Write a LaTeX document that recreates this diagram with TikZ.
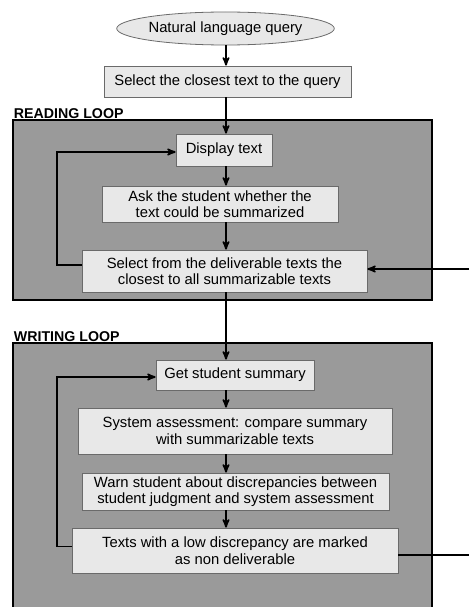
\documentclass[tikz,border=0pt]{standalone}
\usepackage{fontspec}
\setmainfont{Liberation Sans}
\usetikzlibrary{arrows,shapes}
\definecolor{boxfill}{HTML}{E8E8E8}
\definecolor{boxline}{HTML}{6A6A6A}
\definecolor{loopfill}{HTML}{9A9A9A}

\begin{document}
\begin{tikzpicture}[->,>=stealth',x=1pt,y=-1pt,line width=1.8pt,
                    font=\fontsize{14.8}{16.5}\selectfont]
  \tikzstyle{step box}=[rectangle,draw=boxline,fill=boxfill,line width=0.8pt,align=center,inner sep=0pt]
  \tikzstyle{query}=[ellipse,draw=boxline,fill=boxfill,line width=0.8pt,inner sep=0pt,minimum width=187pt,minimum height=33pt]
  \tikzstyle{loop title}=[anchor=base west,inner sep=0pt,font=\fontsize{14.2}{16}\selectfont\bfseries]

  \useasboundingbox (0,0) rectangle (469,607);

  % the two loops
  \fill[loopfill] (13,120) rectangle (432,300);
  \draw[-,line width=2.2pt] (13,120) rectangle (432,300);
  \fill[loopfill] (13,343) rectangle (432,607);
  \draw[-,line width=2.2pt] (13,607) |- (432,343) -- (432,607);
  \node[loop title] (readtitle)  at (13,118) {READING LOOP};
  \node[loop title] (writetitle) at (13,341) {WRITING LOOP};

  \node[query] (nlq) at (225.5,28.5) {Natural language query};
  \node[step box,minimum width=247pt,minimum height=31pt] (closest) at (227.5,81.5) {Select the closest text to the query};
  \node[step box,minimum width=96pt,minimum height=32pt]  (disp)    at (224,150) {Display text};
  \node[step box,minimum width=236pt,minimum height=36pt] (ask)     at (220,204) {Ask the student whether the\\text could be summarized};
  \node[step box,minimum width=285pt,minimum height=42pt] (selfrom) at (224.5,271) {Select from the deliverable texts the\\closest to all summarizable texts};
  \node[step box,minimum width=158pt,minimum height=30pt] (get)     at (235,375) {Get student summary};
  \node[step box,minimum width=314pt,minimum height=46pt] (sys)     at (235,431) {System assessment: compare summary\\with summarizable texts};
  \node[step box,minimum width=307pt,minimum height=37pt] (warn)    at (235.5,491.5) {Warn student about discrepancies between\\student judgment and system assessment};
  \node[step box,minimum width=326pt,minimum height=45pt] (texts)   at (235,550.5) {Texts with a low discrepancy are marked\\as non deliverable};

  \coordinate (spine)   at (226,0);
  \coordinate (rail)    at (57,0);
  \coordinate (edgetop) at (469,269);
  \coordinate (edgebot) at (469,555);

  \path (nlq.south -| spine)     edge (closest.north -| spine)
        (closest.south -| spine) edge (disp.north -| spine)
        (disp.south -| spine)    edge (ask.north -| spine)
        (ask.south -| spine)     edge (selfrom.north -| spine)
        (selfrom.south -| spine) edge (get.north -| spine)
        (get.south -| spine)     edge (sys.north -| spine)
        (sys.south -| spine)     edge (warn.north -| spine)
        (warn.south -| spine)    edge (texts.north -| spine);

  % loop backs
  \draw ([yshift=6pt]selfrom.west) -- ([yshift=6pt]selfrom.west -| rail) |- ([yshift=-2pt]disp.west);
  \draw ([yshift=4pt]texts.west) -- ([yshift=4pt]texts.west -| rail) |- ([yshift=-2pt]get.west);
  \draw[-] (texts.east |- edgebot) -- (edgebot);
  \draw (edgetop) -- (selfrom.east |- edgetop);
\end{tikzpicture}
\end{document}
